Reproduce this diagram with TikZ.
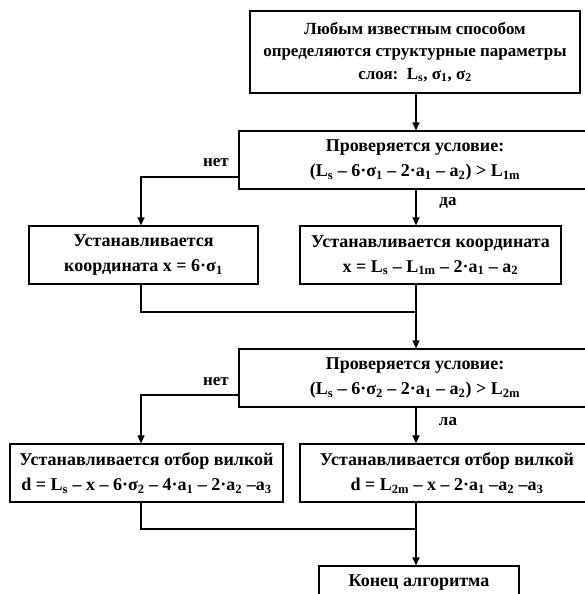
\documentclass[tikz,border=0pt]{standalone}
\usepackage{fontspec}
\setmainfont{Liberation Serif}
\usetikzlibrary{arrows.meta}
\newcommand\sbx[1]{\textsubscript{#1}}
\begin{document}
\begin{tikzpicture}[x=1pt,y={(0,-1pt)},
  box/.style={draw, line width=1.2pt, inner sep=0pt, align=center, font=\fontsize{18}{25}\selectfont\bfseries},
  lbl/.style={inner sep=0pt, font=\fontsize{17}{20}\selectfont\bfseries},
  link/.style={line width=1.2pt},
  arr/.style={line width=1.2pt, -{Triangle[length=8pt,width=7pt]}}]
\useasboundingbox (0,0) rectangle (585,594);
\clip (0,0) rectangle (585,594);
\coordinate (m) at (416,0);
\coordinate (l) at (141,0);
\node[box, minimum width=330pt, minimum height=82pt, font=\fontsize{17}{22.5}\selectfont\bfseries] (b1) at (415,52)
  {Любым известным способом\\определяются структурные параметры\\слоя:\ \ L\sbx{s}, σ\sbx{1}, σ\sbx{2}};
\node[box, minimum width=352pt, minimum height=58pt] (b2) at (415,160)
  {Проверяется условие:\\(L\sbx{s} – 6·σ\sbx{1} – 2·a\sbx{1} – a\sbx{2}) > L\sbx{1m}};
\node[box, minimum width=229pt, minimum height=58pt] (b3) at (143.5,255)
  {Устанавливается\\координата x = 6·σ\sbx{1}};
\node[box, minimum width=261pt, minimum height=58pt] (b4) at (430.5,255)
  {Устанавливается координата\\x = L\sbx{s} – L\sbx{1m} – 2·a\sbx{1} – a\sbx{2}};
\node[box, minimum width=352pt, minimum height=58pt] (b5) at (415,378)
  {Проверяется условие:\\(L\sbx{s} – 6·σ\sbx{2} – 2·a\sbx{1} – a\sbx{2}) > L\sbx{2m}};
\node[box, minimum width=273pt, minimum height=58pt] (b6) at (146.5,473)
  {Устанавливается отбор вилкой\\d = L\sbx{s} – x – 6·σ\sbx{2} – 4·a\sbx{1} – 2·a\sbx{2} –a\sbx{3}};
\node[box, minimum width=294pt, minimum height=58pt] (b7) at (447,473)
  {Устанавливается отбор вилкой\\d = L\sbx{2m} – x – 2·a\sbx{1} –a\sbx{2} –a\sbx{3}};
\node[box, minimum width=200pt, minimum height=50pt, text depth=20pt] (b8) at (419,591)
  {Конец алгоритма};
\node[lbl] (n1) at (216,163) {нет};
\node[lbl] (y1) at (448,203) {да};
\node[lbl] (n2) at (216,382) {нет};
\node[lbl] (y2) at (448,422) {ла};
\coordinate (j1) at (416,312);
\coordinate (j2) at (416,529);
\draw[arr] (b1.south -| m) -- (b2.north -| m);
\draw[arr] ([yshift=-17pt]b2.west) -| (b3.north -| l);
\draw[arr] (b2.south -| m) -- (b4.north -| m);
\draw[link] (b3.south -| l) |- (j1);
\draw[arr] (b4.south -| m) -- (b5.north -| m);
\draw[arr] ([yshift=-17pt]b5.west) -| (b6.north -| l);
\draw[arr] (b5.south -| m) -- (b7.north -| m);
\draw[link] (b6.south -| l) |- (j2);
\draw[arr] (b7.south -| m) -- (b8.north -| m);
\end{tikzpicture}
\end{document}
